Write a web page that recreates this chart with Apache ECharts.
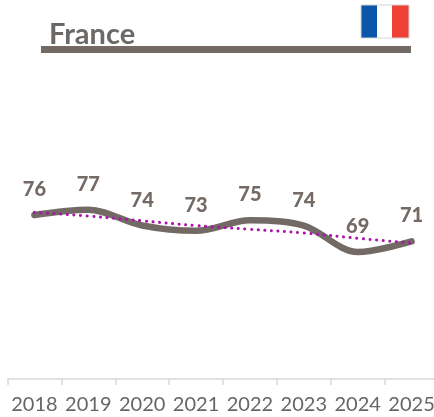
<!DOCTYPE html>
<html><head><meta charset="utf-8">
<style>html,body{margin:0;padding:0;background:#fff}#c{width:434px;height:417px}</style>
<script src="https://cdn.jsdelivr.net/npm/echarts@6/dist/echarts.min.js"></script>
</head><body><div id="c"></div>
<script>
const categories = ['2018','2019','2020','2021','2022','2023','2024','2025'];
const scores = [76,77,74,73,75,74,69,71];
const trend = [76.5,75.8,74.9,74.0,73.3,72.6,71.6,70.7];
const titleText = 'France';
const chart = echarts.init(document.getElementById('c'),null,{renderer:'canvas'});
chart.setOption({
  animation:false,
  backgroundColor:'#fff',
  title:{text:titleText,left:49,top:20,padding:0,textStyle:{fontFamily:'Lato',fontWeight:'bold',fontSize:29,color:'#6b6866'}},
  grid:{left:7.5,width:431,top:88,height:291,containLabel:false,outerBoundsMode:'none'},
  xAxis:{type:'category',data:categories,boundaryGap:true,
    axisLine:{lineStyle:{color:'#d9d9d9',width:1.5}},
    axisTick:{show:true,length:6,alignWithLabel:false,lineStyle:{color:'#d9d9d9',width:1.5}},
    axisLabel:{interval:0,fontFamily:'Lato',fontSize:20,color:'#666666',margin:16,hideOverlap:false},
    splitLine:{show:false}},
  yAxis:{type:'value',min:45,max:100,show:false,splitLine:{show:false}},
  series:[
    {type:'line',data:scores,smooth:0.33,showSymbol:true,symbol:'circle',symbolSize:1,z:2,
     itemStyle:{color:'#736a65'},
     lineStyle:{color:'#736a65',width:6.5,cap:'round'},
     label:{show:true,position:'top',distance:15,formatter:'{c}',fontFamily:'Lato',fontWeight:900,fontSize:20,color:'#736a65'}},
    {type:'line',data:trend,smooth:true,symbol:'none',z:3,
     lineStyle:{color:'#a815a8',width:3,type:[0.1,6.5],cap:'round'}}
  ],
  graphic:[
    {type:'rect',shape:{x:41,y:46,width:370,height:7},style:{fill:'#736a65'}},
    {type:'rect',shape:{x:361,y:5,width:16,height:33},style:{fill:'#0b56a8'}},
    {type:'rect',shape:{x:377,y:5,width:16,height:33},style:{fill:'#ffffff'}},
    {type:'rect',shape:{x:392,y:5,width:17,height:33},style:{fill:'#ef4135'}},
    {type:'rect',shape:{x:361,y:5,width:48,height:33},style:{fill:'none',stroke:'#d5d5d5',lineWidth:1}}
  ]
});
</script></body></html>
